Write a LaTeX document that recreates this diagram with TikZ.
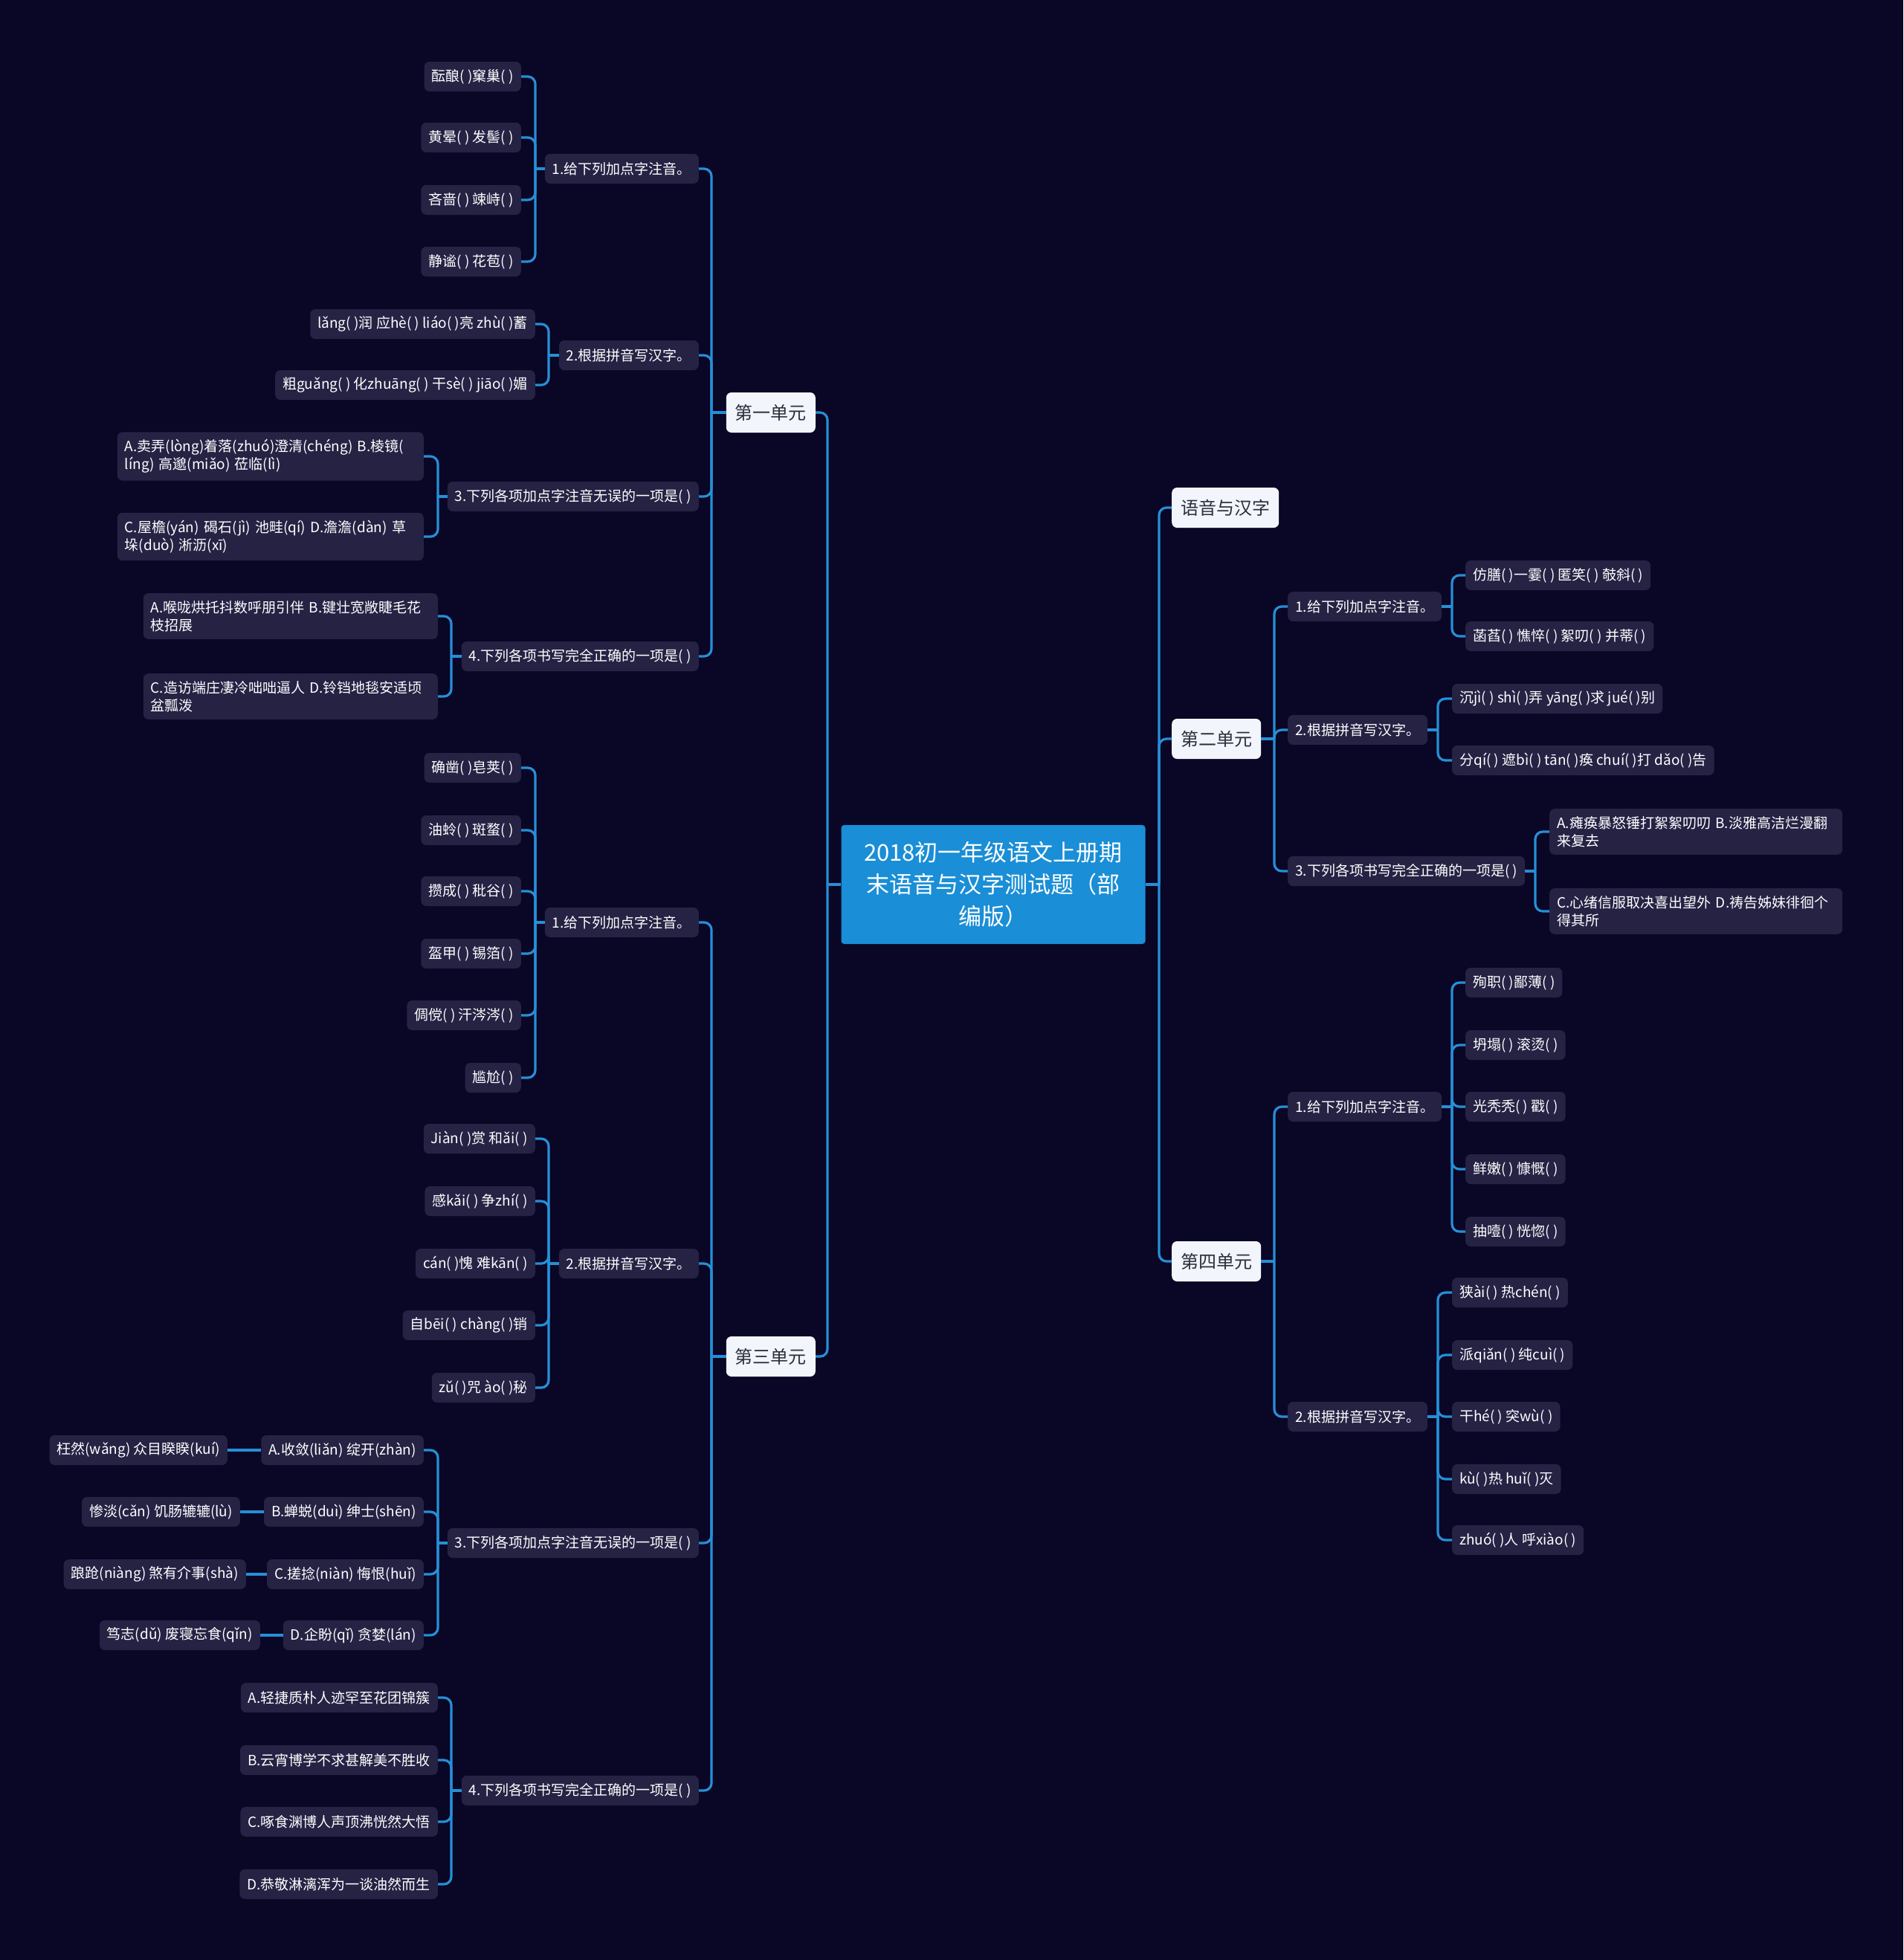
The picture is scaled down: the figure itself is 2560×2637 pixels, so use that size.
\documentclass[tikz,border=0pt]{standalone}
\usepackage{fontspec}
\setmainfont{Noto Sans CJK SC}
\usetikzlibrary{calc}
\definecolor{bgc}{RGB}{9,6,38}
\definecolor{boxc}{RGB}{37,34,68}
\definecolor{edgec}{RGB}{38,143,214}
\definecolor{rootc}{RGB}{26,142,214}
\definecolor{lonec}{RGB}{242,245,251}
\definecolor{lonetext}{RGB}{45,45,60}
\newcommand\treeL[3]{%
  \path (#2,0) coordinate (tmpx);
  \draw[edge] (#1.west) -- (#1.west -| tmpx);
  \foreach \kid in {#3} {\draw[edge,rounded corners=10pt] (#1.west -| tmpx) |- (\kid.east);}
}
\newcommand\treeR[3]{%
  \path (#2,0) coordinate (tmpx);
  \draw[edge] (#1.east) -- (#1.east -| tmpx);
  \foreach \kid in {#3} {\draw[edge,rounded corners=10pt] (#1.east -| tmpx) |- (\kid.west);}
}
\begin{document}
\begin{tikzpicture}[x=1pt,y=-1pt,
  edge/.style={draw=edgec,line width=3.2pt},
  leaf/.style={fill=boxc,rounded corners=7pt,text=white,font=\fontsize{19}{24}\selectfont,inner xsep=10pt,inner ysep=8pt,minimum height=40pt},
  lleaf/.style={leaf,anchor=east},
  rleaf/.style={leaf,anchor=west},
  twol/.style={align=left,text width=#1,inner ysep=10pt},
  lone/.style={fill=lonec,text=lonetext,rounded corners=7pt,font=\fontsize{24}{28}\selectfont,inner xsep=12pt,minimum height=54pt},
  rootnode/.style={fill=rootc,text=white,rounded corners=4pt,font=\fontsize{31}{43}\selectfont,align=center,text width=380pt,minimum width=409pt,minimum height=160pt}]
\fill[bgc] (0,0) rectangle (2560,2637);
\useasboundingbox (0,0) rectangle (2560,2637);

% root
\node[rootnode] (root) at (1336,1190) {2018初一年级语文上册期\\末语音与汉字测试题（部\\编版）};

% level 1
\node[lone,anchor=east] (u1) at (1097,555) {第一单元};
\node[lone,anchor=east] (u3) at (1097,1825) {第三单元};
\node[lone,anchor=west] (yy) at (1576,683) {语音与汉字};
\node[lone,anchor=west] (u2) at (1576,994) {第二单元};
\node[lone,anchor=west] (u4) at (1576,1697) {第四单元};

% unit 1
\node[lleaf] (a1) at (940,227) {1.给下列加点字注音。};
\node[lleaf] (a2) at (940,478) {2.根据拼音写汉字。};
\node[lleaf] (a3) at (940,668) {3.下列各项加点字注音无误的一项是( )};
\node[lleaf] (a4) at (940,883) {4.下列各项书写完全正确的一项是( )};

\node[lleaf] (a11) at (701,103) {酝酿( )窠巢( )};
\node[lleaf] (a12) at (701,185) {黄晕( ) 发髻( )};
\node[lleaf] (a13) at (701,269) {吝啬( ) 竦峙( )};
\node[lleaf] (a14) at (701,352) {静谧( ) 花苞( )};

\node[lleaf] (a21) at (720,436) {lǎng( )润 应hè( ) liáo( )亮 zhù( )蓄};
\node[lleaf] (a22) at (720,518) {粗guǎng( ) 化zhuāng( ) 干sè( ) jiāo( )媚};

\node[lleaf,twol=392pt] (a31) at (570,614) {A.卖弄(lòng)着落(zhuó)澄清(chéng) B.棱镜(\\líng) 高邈(miǎo) 莅临(lì)};
\node[lleaf,twol=392pt] (a32) at (570,722) {C.屋檐(yán) 碣石(jì) 池畦(qí) D.澹澹(dàn) 草\\垛(duò) 淅沥(xī)};

\node[lleaf,twol=376pt] (a41) at (589,829) {A.喉咙烘托抖数呼朋引伴 B.键壮宽敞睫毛花\\枝招展};
\node[lleaf,twol=376pt] (a42) at (589,937) {C.造访端庄凄冷咄咄逼人 D.铃铛地毯安适顷\\盆瓢泼};

% unit 3
\node[lleaf] (c1) at (940,1241) {1.给下列加点字注音。};
\node[lleaf] (c2) at (940,1700) {2.根据拼音写汉字。};
\node[lleaf] (c3) at (940,2076) {3.下列各项加点字注音无误的一项是( )};
\node[lleaf] (c4) at (940,2409) {4.下列各项书写完全正确的一项是( )};

\node[lleaf] (c11) at (701,1033) {确凿( )皂荚( )};
\node[lleaf] (c12) at (701,1117) {油蛉( ) 斑蝥( )};
\node[lleaf] (c13) at (701,1199) {攒成( ) 秕谷( )};
\node[lleaf] (c14) at (701,1283) {盔甲( ) 锡箔( )};
\node[lleaf] (c15) at (701,1366) {倜傥( ) 汗涔涔( )};
\node[lleaf] (c16) at (701,1450) {尴尬( )};

\node[lleaf] (c21) at (720,1532) {Jiàn( )赏 和ǎi( )};
\node[lleaf] (c22) at (720,1616) {感kǎi( ) 争zhí( )};
\node[lleaf] (c23) at (720,1700) {cán( )愧 难kān( )};
\node[lleaf] (c24) at (720,1783) {自bēi( ) chàng( )销};
\node[lleaf] (c25) at (720,1867) {zǔ( )咒 ào( )秘};

\node[lleaf] (c31) at (570,1951) {A.收敛(liǎn) 绽开(zhàn)};
\node[lleaf] (c32) at (570,2034) {B.蝉蜕(duì) 绅士(shēn)};
\node[lleaf] (c33) at (570,2118) {C.搓捻(niàn) 悔恨(huǐ)};
\node[lleaf] (c34) at (570,2200) {D.企盼(qǐ) 贪婪(lán)};
\node[lleaf] (c31l) at (306,1951) {枉然(wǎng) 众目睽睽(kuí)};
\node[lleaf] (c32l) at (323,2034) {惨淡(cǎn) 饥肠辘辘(lù)};
\node[lleaf] (c33l) at (331,2118) {踉跄(niàng) 煞有介事(shà)};
\node[lleaf] (c34l) at (350,2200) {笃志(dǔ) 废寝忘食(qǐn)};

\node[lleaf] (c41) at (589,2284) {A.轻捷质朴人迹罕至花团锦簇};
\node[lleaf] (c42) at (589,2368) {B.云宵博学不求甚解美不胜收};
\node[lleaf] (c43) at (589,2451) {C.啄食渊博人声顶沸恍然大悟};
\node[lleaf] (c44) at (589,2535) {D.恭敬淋漓浑为一谈油然而生};

% unit 2
\node[rleaf] (b1) at (1732,816) {1.给下列加点字注音。};
\node[rleaf] (b2) at (1732,982) {2.根据拼音写汉字。};
\node[rleaf] (b3) at (1732,1172) {3.下列各项书写完全正确的一项是( )};

\node[rleaf] (b11) at (1971,774) {仿膳( )一霎( ) 匿笑( ) 攲斜( )};
\node[rleaf] (b12) at (1971,856) {菡萏( ) 憔悴( ) 絮叨( ) 并蒂( )};
\node[rleaf] (b21) at (1953,940) {沉jì( ) shì( )弄 yāng( )求 jué( )别};
\node[rleaf] (b22) at (1953,1023) {分qí( ) 遮bì( ) tān( )痪 chuí( )打 dǎo( )告};
\node[rleaf,twol=374pt] (b31) at (2084,1119) {A.瘫痪暴怒锤打絮絮叨叨 B.淡雅高洁烂漫翻\\来复去};
\node[rleaf,twol=374pt] (b32) at (2084,1226) {C.心绪信服取决喜出望外 D.祷告姊妹徘徊个\\得其所};

% unit 4
\node[rleaf] (d1) at (1732,1489) {1.给下列加点字注音。};
\node[rleaf] (d2) at (1732,1906) {2.根据拼音写汉字。};

\node[rleaf] (d11) at (1971,1322) {殉职( )鄙薄( )};
\node[rleaf] (d12) at (1971,1406) {坍塌( ) 滚烫( )};
\node[rleaf] (d13) at (1971,1489) {光秃秃( ) 戳( )};
\node[rleaf] (d14) at (1971,1573) {鲜嫩( ) 慷慨( )};
\node[rleaf] (d15) at (1971,1657) {抽噎( ) 恍惚( )};

\node[rleaf] (d21) at (1953,1739) {狭ài( ) 热chén( )};
\node[rleaf] (d22) at (1953,1823) {派qiǎn( ) 纯cuì( )};
\node[rleaf] (d23) at (1953,1906) {干hé( ) 突wù( )};
\node[rleaf] (d24) at (1953,1990) {kù( )热 huǐ( )灭};
\node[rleaf] (d25) at (1953,2072) {zhuó( )人 呼xiào( )};

% connectors
\treeL{root}{1113}{u1,u3}
\treeR{root}{1559}{yy,u2,u4}

\treeL{u1}{957}{a1,a2,a3,a4}
\treeL{a1}{720}{a11,a12,a13,a14}
\treeL{a2}{738}{a21,a22}
\treeL{a3}{589}{a31,a32}
\treeL{a4}{607}{a41,a42}

\treeL{u3}{957}{c1,c2,c3,c4}
\treeL{c1}{720}{c11,c12,c13,c14,c15,c16}
\treeL{c2}{738}{c21,c22,c23,c24,c25}
\treeL{c3}{589}{c31,c32,c33,c34}
\treeL{c4}{607}{c41,c42,c43,c44}
\foreach \kid in {c31,c32,c33,c34} {\draw[edge] (\kid.west) -- (\kid l.east);}

\treeR{u2}{1714}{b1,b2,b3}
\treeR{b1}{1953}{b11,b12}
\treeR{b2}{1934}{b21,b22}
\treeR{b3}{2065}{b31,b32}

\treeR{u4}{1714}{d1,d2}
\treeR{d1}{1953}{d11,d12,d13,d14,d15}
\treeR{d2}{1934}{d21,d22,d23,d24,d25}
\end{tikzpicture}
\end{document}
